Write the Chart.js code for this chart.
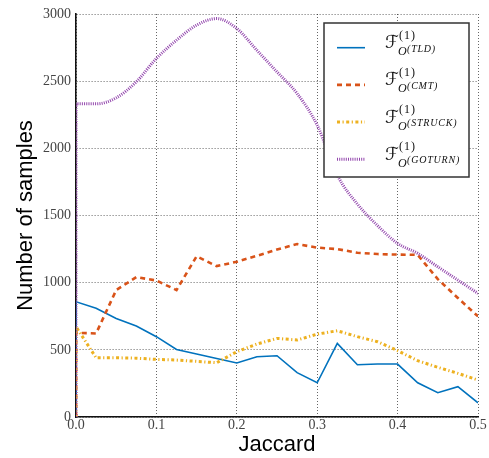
<!DOCTYPE html>
<html>
<head>
<meta charset="utf-8">
<script src="https://cdn.jsdelivr.net/npm/chart.js@4"></script>
<style>
  html, body { margin: 0; padding: 0; background: #fff; }
  #wrap { width: 489px; height: 458px; }
</style>
</head>
<body>
<div id="wrap"><canvas id="samples" width="489" height="458"></canvas></div>
<script>
// Jaccard bins
const jaccard = [0, 0.025, 0.05, 0.075, 0.1, 0.125, 0.15, 0.175, 0.2, 0.225, 0.25,
                 0.275, 0.3, 0.325, 0.35, 0.375, 0.4, 0.425, 0.45, 0.475, 0.5];

// number of samples per tracker
const tld    = [858, 809, 734, 677, 598, 503, 469, 436, 402, 449, 456, 330, 255, 548, 389, 394, 394, 255, 181, 226, 106];
const cmt    = [627, 622, 945, 1041, 1016, 945, 1196, 1123, 1156, 1200, 1247, 1287, 1261, 1250, 1223, 1213, 1209, 1207, 1026, 886, 749];
const struck = [672, 441, 441, 438, 429, 424, 414, 404, 486, 543, 585, 573, 617, 642, 598, 560, 494, 419, 370, 325, 275];
const goturn = [2331, 2331, 2376, 2495, 2669, 2805, 2917, 2966, 2892, 2730, 2569, 2408, 2172, 1800, 1585, 1425, 1292, 1218, 1118, 1019, 920];

const trackers = ['TLD', 'CMT', 'STRUCK', 'GOTURN'];
const yTicks = [0, 500, 1000, 1500, 2000, 2500, 3000];
const xTicks = [0, 0.1, 0.2, 0.3, 0.4, 0.5];

const styles = [
    { color: '#0072BD', width: 1.6, dash: [] },
    { color: '#D95319', width: 2.6, dash: [5, 4] },
    { color: '#EDB120', width: 3, dash: [3, 2.5, 1.2, 2.5] },
    { color: '#9347AD', width: 3, dash: [1, 1.2] }
];

// each curve starts from zero on the left edge
function toPoints(values) {
    const pts = [{ x: jaccard[0], y: 0 }];
    values.forEach((v, i) => pts.push({ x: jaccard[i], y: v }));
    return pts;
}

const datasets = [tld, cmt, struck, goturn].map((vals, i) => ({
    label: trackers[i],
    data: toPoints(vals),
    borderColor: styles[i].color,
    backgroundColor: styles[i].color,
    borderWidth: styles[i].width,
    borderDash: styles[i].dash,
    pointRadius: 0,
    fill: false,
    cubicInterpolationMode: i === 3 ? 'monotone' : 'default',
    tension: 0,
    order: 3 - i
}));

// legend with the F^(1)_{O^(tracker)} labels
const mathLegend = {
    id: 'mathLegend',
    afterDatasetsDraw(chart) {
        const { ctx, chartArea } = chart;
        const w = 145, h = 154;
        const left = chartArea.right - 9 - w;
        const top = chartArea.top + 9;
        ctx.save();
        ctx.fillStyle = '#fff';
        ctx.fillRect(left, top, w, h);
        ctx.strokeStyle = '#333';
        ctx.lineWidth = 1.5;
        ctx.setLineDash([]);
        ctx.strokeRect(left, top, w, h);

        trackers.forEach((name, i) => {
            const rowY = top + 24.7 + i * 37.2;
            const s = styles[i];
            ctx.beginPath();
            ctx.strokeStyle = s.color;
            ctx.lineWidth = s.width;
            ctx.setLineDash(s.dash);
            ctx.moveTo(left + 13, rowY);
            ctx.lineTo(left + 41, rowY);
            ctx.stroke();
            ctx.setLineDash([]);

            const x0 = left + 61;
            ctx.fillStyle = '#111';
            ctx.textAlign = 'left';
            ctx.textBaseline = 'alphabetic';
            ctx.font = '18px "DejaVu Serif", "DejaVu Sans", serif';
            ctx.fillText('ℱ', x0, rowY + 0.5);
            ctx.letterSpacing = '1px';
            ctx.font = '12px "Liberation Serif", serif';
            ctx.fillText('(1)', x0 + 14, rowY - 9);
            ctx.letterSpacing = '0px';
            ctx.font = 'italic 12px "Liberation Serif", serif';
            ctx.fillText('O', x0 + 13, rowY + 7.5);
            ctx.letterSpacing = '0.8px';
            ctx.font = 'italic 10px "Liberation Serif", serif';
            ctx.fillText('(' + name + ')', x0 + 22, rowY + 4);
            ctx.letterSpacing = '0px';
        });
        ctx.restore();
    }
};

const gridStyle = { color: 'rgba(0,0,0,0.6)', lineWidth: 1, drawTicks: false };
const borderStyle = { display: true, color: '#111', width: 1.6, dash: [1, 2] };
const titleFont = { family: '"Liberation Sans", Arial, sans-serif', size: 22 };
const tickFont = { family: '"Liberation Serif", serif', size: 14 };

new Chart(document.getElementById('samples').getContext('2d'), {
    type: 'line',
    data: { datasets: datasets },
    options: {
        responsive: false,
        animation: false,
        devicePixelRatio: 1,
        layout: { padding: { top: 14, right: 11, left: 0, bottom: 0 } },
        plugins: {
            legend: { display: false },
            tooltip: { enabled: false }
        },
        scales: {
            x: {
                type: 'linear',
                min: 0,
                max: 0.5,
                afterBuildTicks: (scale) => { scale.ticks = xTicks.map(v => ({ value: v })); },
                afterFit: (scale) => { scale.height = 41; },
                ticks: {
                    padding: 0,
                    color: '#444',
                    font: tickFont,
                    callback: (v) => Number(v).toFixed(1)
                },
                grid: gridStyle,
                border: borderStyle,
                title: {
                    display: true,
                    text: 'Jaccard',
                    color: '#000',
                    font: titleFont,
                    padding: { top: 0, bottom: 0 }
                }
            },
            y: {
                min: 0,
                max: 3000,
                afterBuildTicks: (scale) => { scale.ticks = yTicks.map(v => ({ value: v })); },
                afterFit: (scale) => { scale.width = 76; },
                ticks: {
                    padding: 5,
                    color: '#444',
                    font: tickFont,
                    callback: (v) => String(v)
                },
                grid: gridStyle,
                border: borderStyle,
                title: {
                    display: true,
                    text: 'Number of samples',
                    color: '#000',
                    font: titleFont,
                    padding: { top: 13, bottom: 0 }
                }
            }
        }
    },
    plugins: [mathLegend]
});
</script>
</body>
</html>
